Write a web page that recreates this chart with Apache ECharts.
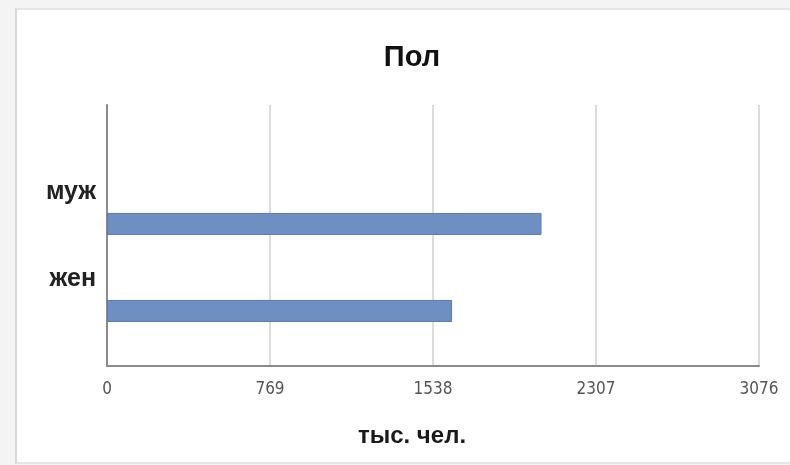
<!DOCTYPE html>
<html><head><meta charset="utf-8">
<script src="https://cdn.jsdelivr.net/npm/echarts@6/dist/echarts.min.js"></script>
<style>
html,body{margin:0;padding:0;background:#f4f4f4;}
#frame{position:absolute;left:15px;top:8px;width:790px;height:452px;background:#fff;border-left:2px solid #d8d8d8;border-top:2px solid #e6e6e6;border-bottom:2px solid #e6e6e6;}
#c{position:absolute;left:0;top:0;width:790px;height:465px;}
</style></head>
<body>
<div id="frame"></div>
<div id="c"></div>
<script>
var categories = ['муж', 'жен'];
var values = [2050, 1628];
var xTicks = [0, 769, 1538, 2307, 3076];
var titleText = 'Пол';
var axisTitle = 'тыс. чел.';

var chart = echarts.init(document.getElementById('c'));
chart.setOption({
  backgroundColor: 'transparent',
  animation: false,
  title: [
    {text: titleText, left: 407, top: 38, textAlign: 'center',
     textStyle: {fontFamily: 'Liberation Sans, Arial, sans-serif', fontSize: 29, fontWeight: 'bold', color: '#111'}},
    {text: axisTitle, left: 407, top: 419, textAlign: 'center',
     textStyle: {fontFamily: 'Liberation Sans, Arial, sans-serif', fontSize: 24, fontWeight: 'bold', color: '#1a1a1a'}}
  ],
  grid: {left: 107, right: 31, top: 105, bottom: 99, containLabel: false},
  xAxis: {
    type: 'value', min: xTicks[0], max: xTicks[xTicks.length - 1], interval: xTicks[1] - xTicks[0],
    axisLine: {show: true, lineStyle: {color: '#8a8a8a', width: 2}},
    axisTick: {show: false},
    splitLine: {show: true, lineStyle: {color: '#dcdcdc', width: 2}},
    axisLabel: {margin: 15, color: '#555', fontSize: 17,
      formatter: function (v) { return String(v); },
      fontFamily: 'Liberation Sans Narrow, DejaVu Sans Condensed, sans-serif'}
  },
  yAxis: {
    type: 'category', inverse: true,
    data: [''].concat(categories),
    axisLine: {show: true, lineStyle: {color: '#8a8a8a', width: 2}},
    axisTick: {show: false},
    splitLine: {show: false},
    axisLabel: {margin: 11, color: '#222', fontSize: 25, fontWeight: 'bold',
      verticalAlign: 'bottom', lineHeight: 86,
      fontFamily: 'Liberation Sans, Arial, sans-serif'}
  },
  series: [
    {type: 'bar', data: [null].concat(values), barWidth: 22, barGap: '5%',
     itemStyle: {color: '#6d8fc2', borderColor: '#5b7cae', borderWidth: 1}},
    {type: 'bar', data: [null].concat(values.map(function(){return null;})), barWidth: 22, barGap: '5%'}
  ]
});
</script>
</body></html>
